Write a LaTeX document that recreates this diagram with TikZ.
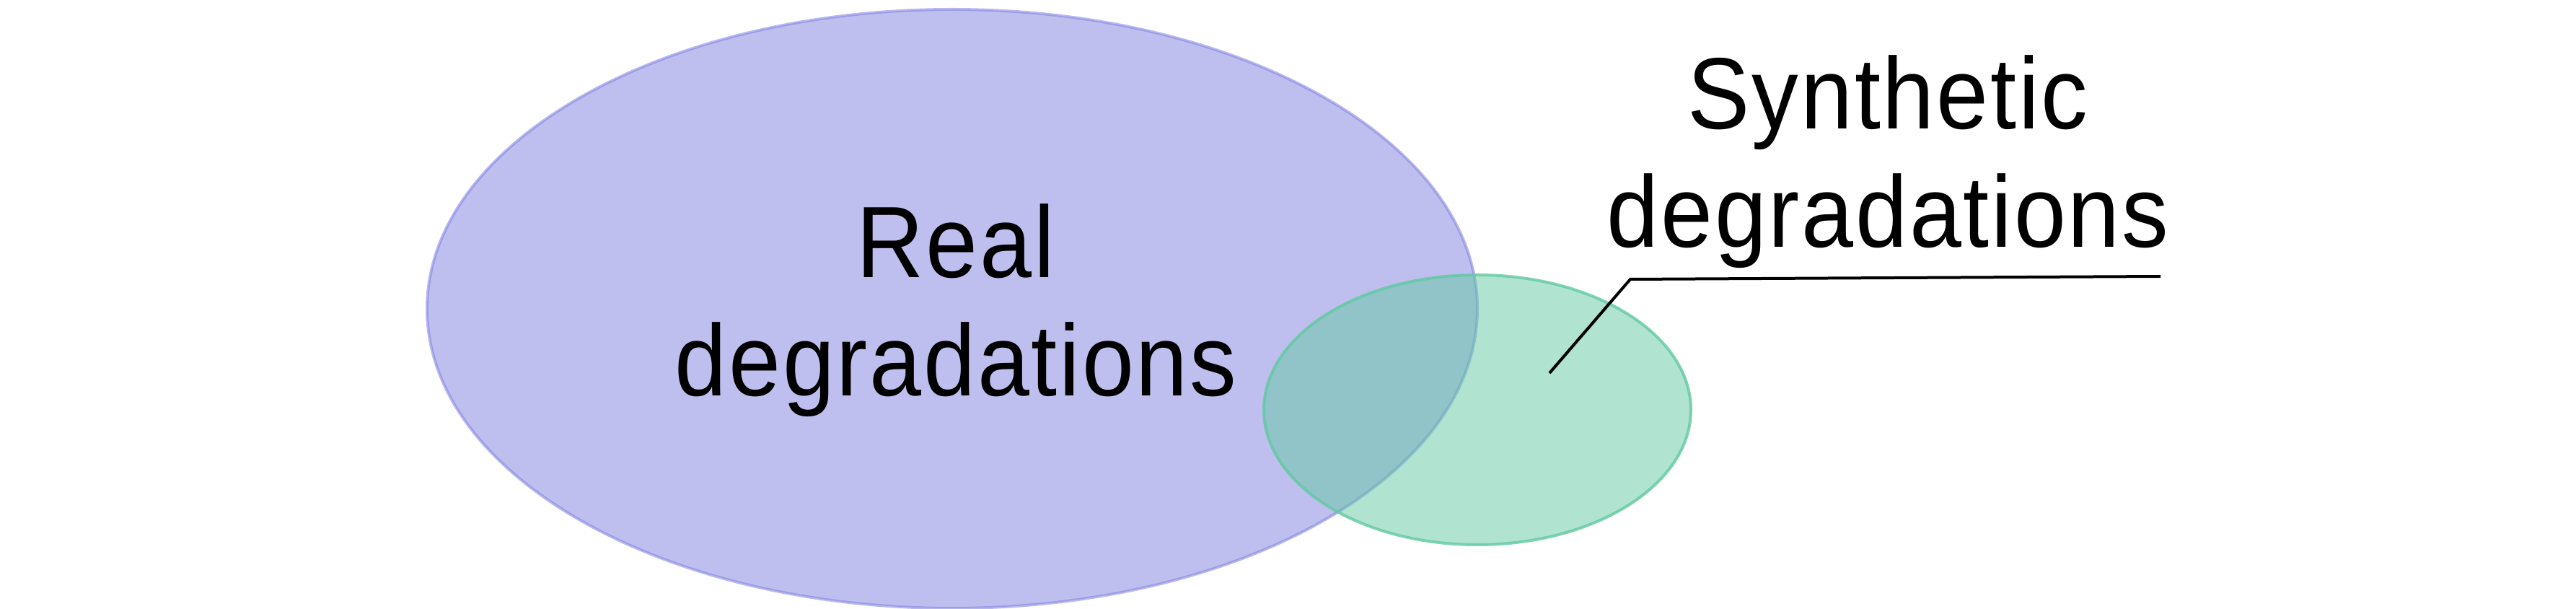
\documentclass[tikz,border=0pt]{standalone}
\usepackage{fontspec}
\setmainfont[FakeStretch=0.92, LetterSpace=2]{Liberation Sans}
\usetikzlibrary{shapes.geometric}

\definecolor{realblue}{RGB}{128,128,224}
\definecolor{synthgreen}{RGB}{97,201,161}

\begin{document}
\begin{tikzpicture}[
    venn/.style={ellipse, line width=0.04cm, fill opacity=0.5, inner sep=0pt},
    caption/.style={align=center, font=\fontsize{40}{46.7}\selectfont},
    leader/.style={line width=0.04cm, line join=miter},
    ]
    \useasboundingbox (0,0) rectangle (35.71,-8.44);
    % Sets
    \node[venn, draw=realblue, draw opacity=0.55, fill=realblue, minimum width=14.56cm, minimum height=8.3cm] (real) at (13.2,-4.28) {};
    \node[venn, draw=synthgreen, draw opacity=0.8, fill=synthgreen, minimum width=5.92cm, minimum height=3.74cm] (synth) at (20.48,-5.68) {};

    % Texts
    \node[caption] (realtext) at (13.25,-4.30) {Real\\degradations};
    \node[caption] (synthtext) at (26.17,-2.24) {Synthetic\\degradations};

    % Leader line
    \coordinate (tip) at (21.48,-5.17);
    \coordinate (knee) at (22.60,-3.87);
    \coordinate (tail) at (29.95,-3.83);
    \draw[leader] (tip) -- (knee) -- (tail);
\end{tikzpicture}
\end{document}
